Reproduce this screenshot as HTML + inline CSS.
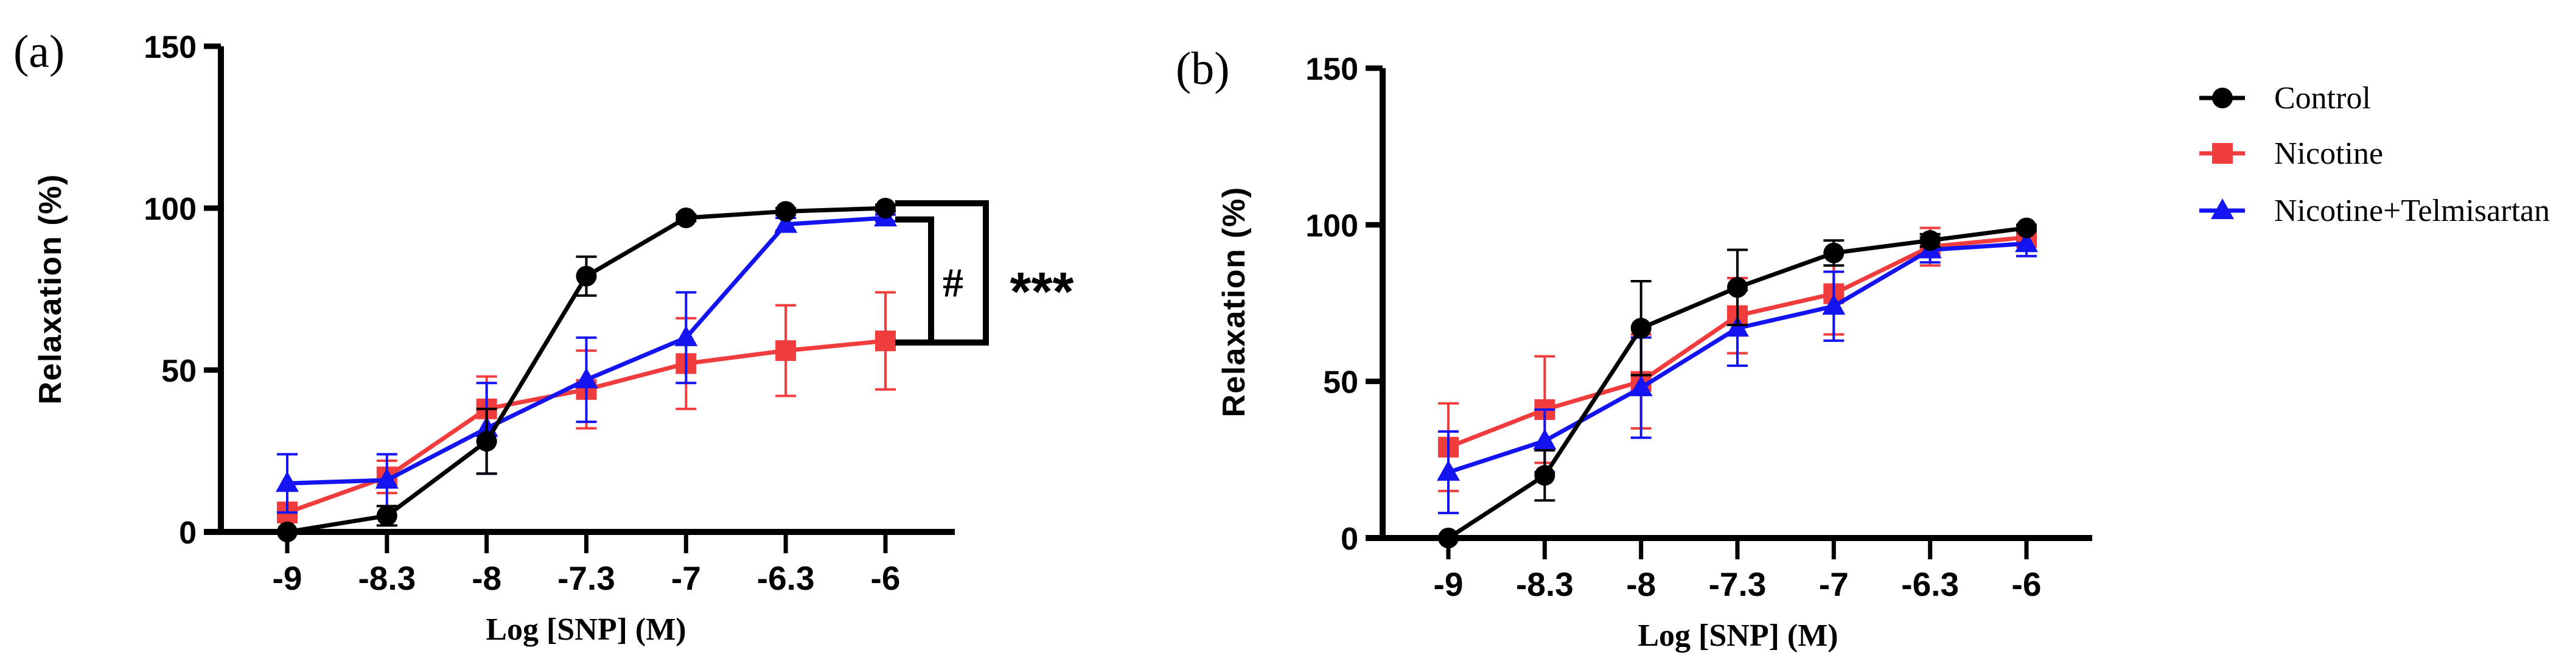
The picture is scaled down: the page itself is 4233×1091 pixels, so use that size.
<!DOCTYPE html>
<html><head><meta charset="utf-8"><style>
html,body{margin:0;padding:0;background:#fff;}
svg{display:block;}
</style></head><body>
<svg id="chart" width="4233" height="1091" viewBox="0 0 4233 1091" xmlns="http://www.w3.org/2000/svg">
<g id="root"></g>
</svg>
<script>
const categories = ["-9","-8.3","-8","-7.3","-7","-6.3","-6"];
const yTicks = [0,50,100,150];
const seriesNames = ["Control","Nicotine","Nicotine+Telmisartan"];
const aControl = [0,5,28,79,97,99,100];
const aControlErr = [0,3,10,6,1,1,1];
const aNicotine = [6,17,38,44,52,56,59];
const aNicotineErr = [3,5,10,12,14,14,15];
const aTelmi = [15,16,32,47,60,95,97];
const aTelmiErr = [9,8,14,13,14,2,1];
const bControl = [0,20,67,80,91,95,99];
const bControlErr = [0,8,15,12,4,2,1];
const bNicotine = [29,41,50,71,78,93,96];
const bNicotineErr = [14,17,15,12,13,6,3];
const bTelmi = [21,31,48,67,74,92,94];
const bTelmiErr = [13,10,16,12,11,4,4];

const NS="http://www.w3.org/2000/svg";
const root=document.getElementById('root');
function mk(tag,attrs,parent){const e=document.createElementNS(NS,tag);for(const k in attrs)e.setAttribute(k,attrs[k]);(parent||root).appendChild(e);return e;}
const colors=["#000000","#f03c3c","#1414f0"];

function panel(p){
  const g=mk('g',{});
  
  
  const xs=i=>p.x0+i*(p.x1-p.x0)/(categories.length-1);
  const ys=v=>p.y0-v*(p.y0-p.y150)/150;
  const ya=mk('line',{x1:p.ax,y1:p.y150,x2:p.ax,y2:p.y0+5,stroke:'#000','stroke-width':10},g);
  
  const xa=mk('line',{x1:p.ax-28,y1:p.y0,x2:p.xend,y2:p.y0,stroke:'#000','stroke-width':10},g);
  
  yTicks.forEach(v=>{
    const t=mk('line',{x1:p.ax-28,y1:ys(v),x2:p.ax,y2:ys(v),stroke:'#000','stroke-width':9},g);
    
    const l=mk('text',{x:p.ax-40,y:ys(v)+19,'text-anchor':'end','font-family':'Liberation Sans, sans-serif','font-weight':'bold','font-size':52,fill:'#000'},g);
    l.textContent=v;
    
  });
  categories.forEach((c,i)=>{
    const t=mk('line',{x1:xs(i),y1:p.y0,x2:xs(i),y2:p.y0+35,stroke:'#000','stroke-width':7},g);
    
    const l=mk('text',{x:xs(i),y:p.y0+95,'text-anchor':'middle','font-family':'Liberation Sans, sans-serif','font-weight':'bold','font-size':55,fill:'#000'},g);
    l.textContent=c;
    
  });
  const xt=mk('text',{x:p.xtc,y:p.y0+177,'text-anchor':'middle','font-family':'Liberation Serif, serif','font-weight':'bold','font-size':52,fill:'#000'},g);
  xt.textContent='Log [SNP] (M)';
  
  const yt=mk('text',{x:0,y:0,'text-anchor':'middle','font-family':'Liberation Sans, sans-serif','font-weight':'bold','font-size':52,'letter-spacing':1.5,fill:'#000',transform:`translate(${p.ytx},${p.yty}) rotate(-90)`},g);
  yt.textContent='Relaxation (%)';
  
  const lb=mk('text',{x:p.lx,y:p.ly,'font-family':'Liberation Serif, serif','font-size':76,fill:'#000'},g);
  lb.textContent=p.label;
  
  const order=[1,2,0];
  order.forEach(si=>{
    const vals=p.data[si],errs=p.errs[si],col=colors[si];
    const sg=mk('g',{},g);
    
    
    vals.forEach((v,i)=>{
      if(errs[i]>0){
        const e=mk('path',{d:`M${xs(i)},${ys(v-errs[i])}V${ys(v+errs[i])}M${xs(i)-17},${ys(v+errs[i])}H${xs(i)+17}M${xs(i)-17},${ys(v-errs[i])}H${xs(i)+17}`,stroke:col,'stroke-width':4,fill:'none'},sg);
        
      }
    });
    const pl=mk('polyline',{points:vals.map((v,i)=>xs(i)+','+ys(v)).join(' '),fill:'none',stroke:col,'stroke-width':7},sg);
    
    vals.forEach((v,i)=>{marker(sg,si,xs(i),ys(v));});
  });
  return {g,xs,ys};
}
function marker(parent,si,x,y){
  let m;
  if(si===0) m=mk('circle',{cx:x,cy:y,r:17,fill:'#000'},parent);
  else if(si===1) m=mk('rect',{x:x-17,y:y-17,width:34,height:34,fill:'#f03c3c'},parent);
  else m=mk('polygon',{points:`${x},${y-20} ${x+19},${y+14} ${x-19},${y+14}`,fill:'#1414f0'},parent);
  
  
  return m;
}
const A=panel({name:'panel-a',ax:363,x0:472,x1:1455,xend:1569,y0:874,y150:76,xtc:963,ytx:100,yty:475,lx:22,ly:110,label:'(a)',
  data:[aControl,aNicotine,aTelmi],errs:[aControlErr,aNicotineErr,aTelmiErr]});
const B=panel({name:'panel-b',ax:2272,x0:2380,x1:3330,xend:3438,y0:884,y150:112,xtc:2856,ytx:2045,yty:496,lx:1932,ly:138,label:'(b)',
  data:[bControl,bNicotine,bTelmi],errs:[bControlErr,bNicotineErr,bTelmiErr]});
const br=mk('g',{});


const ob=mk('path',{d:`M1471,${A.ys(101.5)}H1620V${A.ys(58.5)}H1471`,fill:'none',stroke:'#000','stroke-width':10},br);

const ib=mk('path',{d:`M1471,${A.ys(96.5)}H1530V${A.ys(58.5)}`,fill:'none',stroke:'#000','stroke-width':10},br);

const h=mk('text',{x:1566,y:487,'text-anchor':'middle','font-family':'Liberation Serif, serif','font-weight':'bold','font-size':68,fill:'#000'},br);
h.textContent='#';
const st=mk('text',{x:1712,y:510,'text-anchor':'middle','font-family':'Liberation Sans, sans-serif','font-weight':'bold','font-size':90,fill:'#000'},br);
st.textContent='***';
const lg=mk('g',{});


const legY=[161,252,346];
seriesNames.forEach((n,si)=>{
  const e=mk('g',{},lg);
  
  
  mk('line',{x1:3614,y1:legY[si],x2:3689,y2:legY[si],stroke:colors[si],'stroke-width':7},e);
  marker(e,si,3652,legY[si]);
  const t=mk('text',{x:3737,y:legY[si]+17,'font-family':'Liberation Serif, serif','font-size':52,fill:'#000'},e);
  t.textContent=n;
  
  
});
</script>
</body></html>
